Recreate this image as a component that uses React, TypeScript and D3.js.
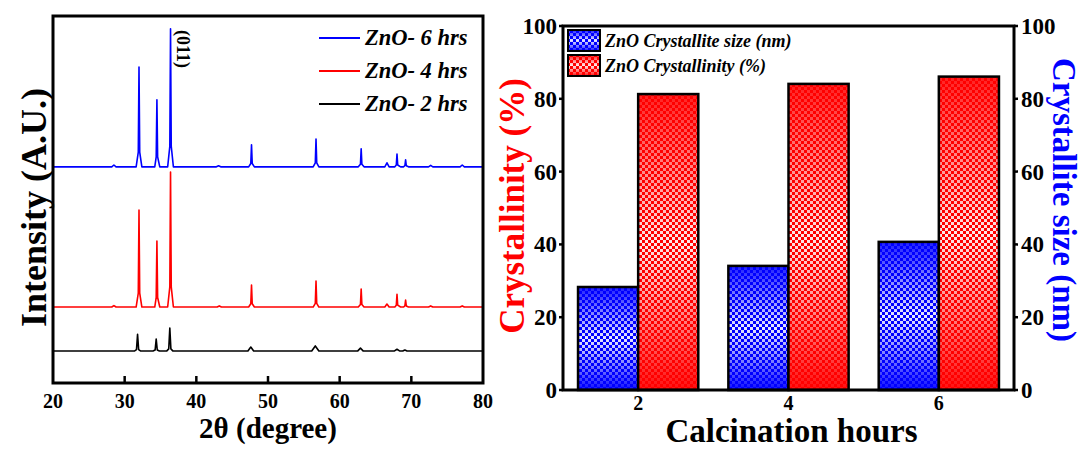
import React from "react";
import * as d3 from "d3";

// ---------- XRD data (2θ, intensity above each pattern's own baseline, A.U.) ----------
const XRD_2H: [number, number][] = [
  [20, 0], [31.35, 0], [31.65, 4], [31.8, 46], [31.95, 4], [32.25, 0],
  [33.95, 0], [34.25, 3], [34.4, 33], [34.55, 3], [34.85, 0],
  [35.85, 0], [36.15, 6], [36.3, 63], [36.45, 6], [36.75, 0],
  [47.2, 0], [47.6, 11], [48.0, 0],
  [56.1, 0], [56.6, 14], [57.1, 0],
  [62.5, 0], [62.9, 8], [63.3, 0],
  [67.6, 0], [68.0, 5], [68.4, 0],
  [68.8, 0], [69.1, 3], [69.4, 0],
  [80, 0],
];
const XRD_4H: [number, number][] = [
  [20, 0], [28.2, 0], [28.5, 4], [28.8, 0],
  [31.6, 0], [31.9, 38], [32.0, 264], [32.1, 38], [32.4, 0],
  [34.2, 0], [34.4, 26], [34.5, 180], [34.6, 26], [34.9, 0],
  [36.0, 0], [36.3, 55], [36.4, 368], [36.5, 55], [36.8, 0],
  [42.9, 0], [43.2, 3], [43.5, 0],
  [47.3, 0], [47.6, 9], [47.7, 60], [47.8, 9], [48.1, 0],
  [56.3, 0], [56.6, 10], [56.7, 71], [56.8, 10], [57.1, 0],
  [62.6, 0], [62.9, 7], [63.0, 49], [63.1, 7], [63.4, 0],
  [66.3, 0], [66.6, 8], [66.9, 0],
  [67.7, 0], [67.9, 5], [68.0, 35], [68.1, 5], [68.5, 0],
  [68.9, 0], [69.1, 3], [69.2, 19], [69.3, 3], [69.6, 0],
  [72.4, 0], [72.7, 3], [73.0, 0],
  [76.8, 0], [77.1, 3], [77.4, 0],
  [80, 0],
];
const XRD_6H: [number, number][] = [
  [20, 0], [28.2, 0], [28.5, 5], [28.8, 0],
  [31.6, 0], [31.9, 40], [32.0, 272], [32.1, 40], [32.4, 0],
  [34.2, 0], [34.4, 27], [34.5, 183], [34.6, 27], [34.9, 0],
  [36.0, 0], [36.3, 56], [36.4, 376], [36.5, 56], [36.8, 0],
  [42.8, 0], [43.1, 3], [43.4, 0],
  [47.3, 0], [47.6, 9], [47.7, 60], [47.8, 9], [48.1, 0],
  [56.3, 0], [56.6, 11], [56.7, 76], [56.8, 11], [57.1, 0],
  [62.6, 0], [62.9, 7], [63.0, 49], [63.1, 7], [63.4, 0],
  [66.3, 0], [66.6, 11], [66.9, 0],
  [67.7, 0], [67.9, 5], [68.0, 35], [68.1, 5], [68.5, 0],
  [68.9, 0], [69.1, 3], [69.2, 19], [69.3, 3], [69.6, 0],
  [72.4, 0], [72.7, 4], [73.0, 0],
  [76.8, 0], [77.1, 5], [77.4, 0],
  [80, 0],
];
const XRD_LABELS = ["ZnO- 6 hrs", "ZnO- 4 hrs", "ZnO- 2 hrs"];
const XRD_OFFSETS = [589, 207, 87];
const XRD_COLORS = ["#0000ff", "#ff0000", "#000000"];
const XRD_TICKS = [20, 30, 40, 50, 60, 70, 80];

// ---------- Bar data ----------
const HOURS = ["2", "4", "6"];
const CRYSTALLITE_SIZE = [28.3, 34.1, 40.7];
const CRYSTALLINITY = [81.3, 84.1, 86.1];
const BAR_TICKS = [0, 20, 40, 60, 80, 100];
const BAR_LEGEND = ["ZnO Crystallite size (nm)", "ZnO Crystallinity (%)"];

const FONT = "'Liberation Serif', 'Times New Roman', serif";

export default function App() {
  // left panel
  const lx0 = 53, lx1 = 483, ly0 = 16, ly1 = 383;
  const xL = d3.scaleLinear().domain([20, 80]).range([lx0, lx1]);
  const yL = d3.scaleLinear().domain([0, 1000]).range([ly1, ly0]);
  const series = [XRD_6H, XRD_4H, XRD_2H];
  const paths = series.map((s, i) =>
    d3
      .line<[number, number]>()
      .x((d) => xL(d[0]))
      .y((d) => yL(d[1] + XRD_OFFSETS[i]))
      .curve(d3.curveLinear)(s) as string
  );

  // right panel
  const rx0 = 563, rx1 = 1014, ry0 = 26, ry1 = 390;
  const xR = d3.scaleBand<string>().domain(HOURS).range([rx0, rx1]).paddingInner(0.2).paddingOuter(0.1);
  const xSub = d3.scaleBand<string>().domain(["size", "cryst"]).range([0, xR.bandwidth()]);
  const yR = d3.scaleLinear().domain([0, 100]).range([ry1, ry0]);

  const barSets = [
    { key: "size", vals: CRYSTALLITE_SIZE, fill: "url(#gradBlue)", pat: "url(#checkBlue)" },
    { key: "cryst", vals: CRYSTALLINITY, fill: "url(#gradRed)", pat: "url(#checkRed)" },
  ];

  return (
    <svg width={1083} height={450} style={{ display: "block", position: "absolute", left: 0, top: 0 }} fontFamily={FONT}>
      <defs>
        <pattern id="checkBlue" width={6} height={6} patternUnits="userSpaceOnUse">
          <rect x={0} y={0} width={3} height={3} fill="#0000ff" />
          <rect x={3} y={3} width={3} height={3} fill="#0000ff" />
        </pattern>
        <pattern id="checkRed" width={6} height={6} patternUnits="userSpaceOnUse">
          <rect x={0} y={0} width={3} height={3} fill="#ff0000" />
          <rect x={3} y={3} width={3} height={3} fill="#ff0000" />
        </pattern>
        <linearGradient id="gradBlue" x1="0" y1="0" x2="0" y2="1">
          <stop offset="0" stopColor="#2020ff" />
          <stop offset="0.2" stopColor="#7070ff" />
          <stop offset="0.5" stopColor="#e8e8ff" />
          <stop offset="0.8" stopColor="#7070ff" />
          <stop offset="1" stopColor="#1010ff" />
        </linearGradient>
        <linearGradient id="gradRed" x1="0" y1="0" x2="0" y2="1">
          <stop offset="0" stopColor="#ff2020" />
          <stop offset="0.2" stopColor="#ff7070" />
          <stop offset="0.5" stopColor="#ffe8e8" />
          <stop offset="0.8" stopColor="#ff7070" />
          <stop offset="1" stopColor="#ff1010" />
        </linearGradient>
      </defs>
      <rect x={0} y={0} width={1083} height={450} fill="#fff" />

      {/* ---------------- left: XRD ---------------- */}
      {paths.map((p, i) => (
        <path key={i} d={p} fill="none" stroke={XRD_COLORS[i]} strokeWidth={1.6} strokeLinejoin="round" />
      ))}
      <rect x={lx0} y={ly0} width={lx1 - lx0} height={ly1 - ly0} fill="none" stroke="#000" strokeWidth={3} />
      {XRD_TICKS.map((t) => (
        <g key={t}>
          {t > 20 && t < 80 && <line x1={xL(t)} x2={xL(t)} y1={ly1} y2={ly1 - 7} stroke="#000" strokeWidth={2.5} />}
          <text x={xL(t)} y={408} textAnchor="middle" fontWeight="bold" fontSize={20}>
            {t}
          </text>
        </g>
      ))}
      <text x={(lx0 + lx1) / 2} y={438} textAnchor="middle" fontWeight="bold" fontSize={29}>
        2θ (degree)
      </text>
      <text transform={`translate(46,${(ly0 + ly1) / 2 + 8}) rotate(-90)`} textAnchor="middle" fontWeight="bold" fontSize={36}>
        Intensity (A.U.)
      </text>
      <text transform={`translate(${xL(36.4) + 6},30) rotate(90)`} textAnchor="start" fontWeight="bold" fontSize={18}>
        (011)
      </text>
      {XRD_LABELS.map((lab, i) => (
        <g key={lab}>
          <line x1={319} x2={360} y1={38 + i * 33} y2={38 + i * 33} stroke={XRD_COLORS[i]} strokeWidth={1.8} />
          <text x={365} y={45 + i * 33} fontWeight="bold" fontStyle="italic" fontSize={22.5}>
            {lab}
          </text>
        </g>
      ))}

      {/* ---------------- right: bars ---------------- */}
      {HOURS.map((h, gi) =>
        barSets.map((b) => {
          const x = (xR(h) as number) + (xSub(b.key) as number);
          const y = yR(b.vals[gi]);
          const w = xSub.bandwidth();
          const hh = ry1 - y;
          return (
            <g key={h + b.key}>
              <rect x={x} y={y} width={w} height={hh} fill={b.fill} />
              <rect x={x} y={y} width={w} height={hh} fill={b.pat} stroke="#000" strokeWidth={2.5} />
            </g>
          );
        })
      )}
      <rect x={rx0} y={ry0} width={rx1 - rx0} height={ry1 - ry0} fill="none" stroke="#000" strokeWidth={3} />
      {BAR_TICKS.map((t) => (
        <g key={t}>
          <line x1={rx0 - 4} x2={rx0} y1={yR(t)} y2={yR(t)} stroke="#000" strokeWidth={2.5} />
          <line x1={rx1} x2={rx1 + 4} y1={yR(t)} y2={yR(t)} stroke="#000" strokeWidth={2.5} />
          <text x={557} y={yR(t) + 8} textAnchor="end" fontWeight="bold" fontSize={23}>
            {t}
          </text>
          <text x={1021} y={yR(t) + 8} textAnchor="start" fontWeight="bold" fontSize={23}>
            {t}
          </text>
        </g>
      ))}
      {HOURS.map((h) => (
        <text key={h} x={(xR(h) as number) + xR.bandwidth() / 2} y={410} textAnchor="middle" fontWeight="bold" fontSize={20}>
          {h}
        </text>
      ))}
      <text x={(rx0 + rx1) / 2 + 3} y={442} textAnchor="middle" fontWeight="bold" fontSize={33}>
        Calcination hours
      </text>
      <text transform={`translate(524,${(ry0 + ry1) / 2 - 2}) rotate(-90)`} textAnchor="middle" fontWeight="bold" fontSize={35} fill="#ff0000">
        Crystallinity (%)
      </text>
      <text transform={`translate(1053,${(ry0 + ry1) / 2 - 8}) rotate(90)`} textAnchor="middle" fontWeight="bold" fontSize={33} fill="#0000ff">
        Crystallite size (nm)
      </text>
      {BAR_LEGEND.map((lab, i) => {
        const b = barSets[i];
        const y = 30 + i * 25;
        return (
          <g key={lab}>
            <rect x={568} y={y} width={32} height={21} fill={b.fill} />
            <rect x={568} y={y} width={32} height={21} fill={b.pat} stroke="#000" strokeWidth={2} />
            <text x={605} y={y + 17} fontWeight="bold" fontStyle="italic" fontSize={18}>
              {lab}
            </text>
          </g>
        );
      })}
    </svg>
  );
}
